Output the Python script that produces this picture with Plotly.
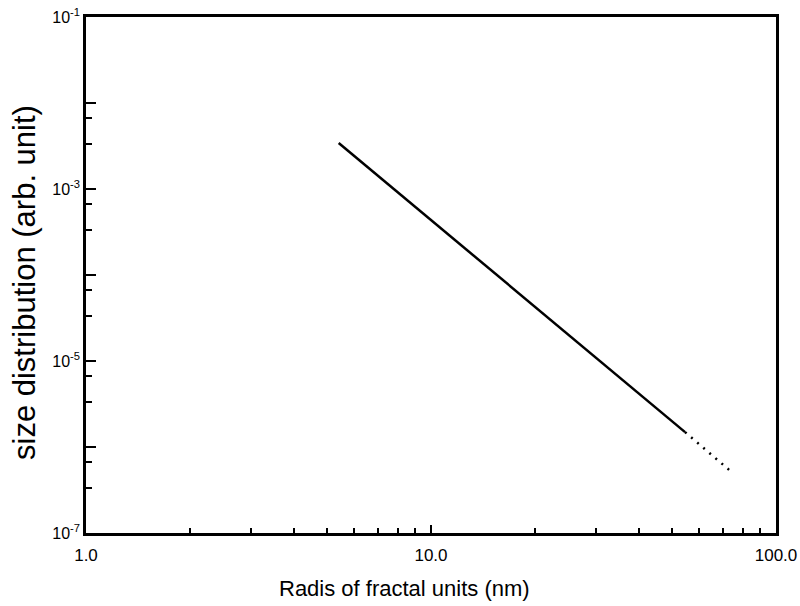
import plotly.graph_objects as go

# data
solid_x = [5.4, 54.5]
solid_y = [3.43e-3, 1.49e-6]
dot_x = [54.5, 73.6]
dot_y = [1.49e-6, 5.3e-7]

x_tickvals = [1, 10, 100]
x_ticktext = ["1.0", "10.0", "100.0"]
y_tickvals = [1e-1, 1e-2, 1e-3, 1e-4, 1e-5, 1e-6, 1e-7]
y_ticktext = ["10<sup>-1</sup>", "", "10<sup>-3</sup>", "", "10<sup>-5</sup>", "", "10<sup>-7</sup>"]
x_title = "Radis of fractal units (nm)"
y_title = "size distribution (arb. unit)"

x_minor = [m * 10 ** k for k in (0, 1) for m in range(2, 10)]
y_minor = [f * 10 ** k for k in range(-7, -1) for f in (0.33, 0.67)]

fig = go.Figure()
fig.add_trace(go.Scatter(x=solid_x, y=solid_y, mode="lines",
                         line=dict(color="black", width=2.5), showlegend=False))
fig.add_trace(go.Scatter(x=dot_x, y=dot_y, mode="lines",
                         line=dict(color="black", width=2.5, dash="2px,6px"), showlegend=False))

font = dict(family="Liberation Sans, Arial", color="black")

fig.update_layout(
    width=800, height=606,
    margin=dict(l=86, r=24, t=17, b=73),
    paper_bgcolor="white", plot_bgcolor="white",
    font=font,
    xaxis=dict(
        type="log", range=[0, 2], automargin=False,
        tickmode="array", tickvals=x_tickvals, ticktext=x_ticktext,
        ticks="inside", ticklen=8, tickwidth=2, tickcolor="black",
        minor=dict(tickmode="array", tickvals=x_minor, ticks="inside",
                   ticklen=5, tickwidth=2, tickcolor="black", showgrid=False),
        showgrid=False, zeroline=False,
        showline=True, linecolor="black", linewidth=2.5, mirror=True,
        tickfont=dict(size=17, **font), ticklabelstandoff=5,
    ),
    yaxis=dict(
        type="log", range=[-7, -1], automargin=False,
        tickmode="array", tickvals=y_tickvals, ticktext=y_ticktext,
        ticks="inside", ticklen=10, tickwidth=2, tickcolor="black",
        minor=dict(tickmode="array", tickvals=y_minor, ticks="inside",
                   ticklen=6, tickwidth=2, tickcolor="black", showgrid=False),
        showgrid=False, zeroline=False,
        showline=True, linecolor="black", linewidth=2.5, mirror=True,
        tickfont=dict(size=16, **font),
    ),
    annotations=[
        dict(text=x_title, xref="paper", yref="paper", x=0.462, y=-0.1085,
             xanchor="center", yanchor="middle", showarrow=False,
             font=dict(size=22, **font)),
        dict(text=y_title, xref="paper", yref="paper", x=-0.0884, y=0.4845,
             xanchor="center", yanchor="middle", showarrow=False, textangle=-90,
             font=dict(size=31, **font)),
    ],
)

fig.write_html("out.html")
